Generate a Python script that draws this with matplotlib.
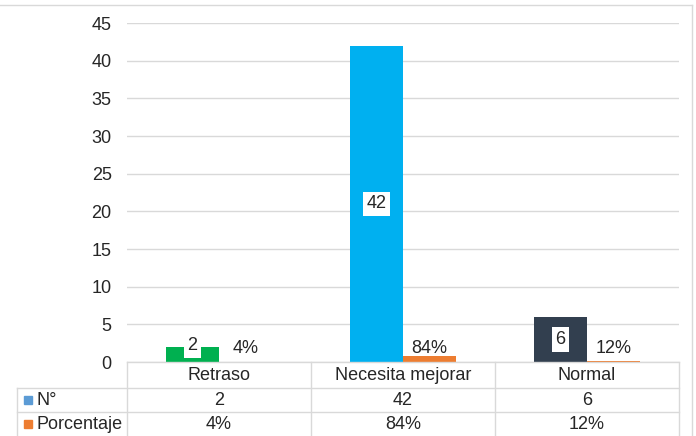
import numpy as np
from matplotlib import pyplot as plt
from matplotlib.patches import Rectangle
from matplotlib.lines import Line2D

plt.rcParams['font.family'] = ['Liberation Sans', 'DejaVu Sans']

# data
categories = ['Retraso', 'Necesita mejorar', 'Normal']
counts = [2, 42, 6]
percents = [0.04, 0.84, 0.12]
pct_labels = ['4%', '84%', '12%']
series_names = ['N°', 'Porcentaje']
yticks = [0, 5, 10, 15, 20, 25, 30, 35, 40, 45]

bar_colors = ['#00B050', '#00B0F0', '#323F4F']
pct_color = '#ED7D31'
key_colors = ['#5B9BD5', '#ED7D31']
grid_col = '#D9D9D9'
txt_col = '#262626'
fs = 13

W, H = 696, 436
fig = plt.figure(figsize=(W / 100, H / 100), dpi=100)

# plot area in pixels
px_left, px_right, px_top, px_bottom = 127, 679, 23, 362
ax = fig.add_axes([px_left / W, 1 - px_bottom / H,
                   (px_right - px_left) / W, (px_bottom - px_top) / H])

x = np.arange(len(categories))
bw = 0.288
ax.bar(x - bw / 2, counts, bw, color=bar_colors, zorder=3)
ax.bar(x + bw / 2, percents, bw, color=pct_color, zorder=3)

# count labels centred in bar, kept above the axis when the bar is short
for xi, c in zip(x, counts):
    ax.text(xi - bw / 2, max(c / 2, 2.2), str(c), ha='center', va='center',
            fontsize=fs, color=txt_col, zorder=5,
            bbox=dict(boxstyle='square,pad=0.2', fc='white', ec='none'))
# percent labels sit just above the bar, with a minimum height
for xi, p, lbl in zip(x, percents, pct_labels):
    ax.text(xi + bw / 2, max(p + 0.35, 1.2), lbl, ha='center', va='baseline',
            fontsize=fs, color=txt_col, zorder=5)

ax.set_xlim(-0.5, len(categories) - 0.5)
ax.set_ylim(0, 45)
ax.set_yticks(yticks)
ax.set_xticks([])
ax.tick_params(axis='y', length=0, pad=11, labelsize=fs, labelcolor=txt_col)
ax.grid(axis='y', color=grid_col, linewidth=1, zorder=0)
for s in ax.spines.values():
    s.set_visible(False)

# data table below the plot (figure pixel coordinates)
def fx(px):
    return px / W

def fy(py):
    return 1 - py / H

col_w = (px_right - px_left) / len(categories)
row_tops = [362, 388, 412, 436]
key_left = 17

def hline(y, x0, x1):
    fig.add_artist(Line2D([fx(x0), fx(x1)], [fy(y), fy(y)], color=grid_col, lw=1))

def vline(xp, y0, y1):
    fig.add_artist(Line2D([fx(xp), fx(xp)], [fy(y0), fy(y1)], color=grid_col, lw=1))

hline(362, px_left, px_right)
hline(388, key_left, px_right)
hline(412, key_left, px_right)
for i in range(len(categories) + 1):
    vline(px_left + i * col_w, 362, 436)
vline(key_left, 388, 436)

for i, cat in enumerate(categories):
    cx = px_left + (i + 0.5) * col_w
    fig.text(fx(cx), fy((row_tops[0] + row_tops[1]) / 2), cat,
             ha='center', va='center', fontsize=fs, color=txt_col)
    fig.text(fx(cx), fy((row_tops[1] + row_tops[2]) / 2), str(counts[i]),
             ha='center', va='center', fontsize=fs, color=txt_col)
    fig.text(fx(cx), fy((row_tops[2] + row_tops[3]) / 2), pct_labels[i],
             ha='center', va='center', fontsize=fs, color=txt_col)

for r, (name, kc) in enumerate(zip(series_names, key_colors)):
    cy = (row_tops[r + 1] + row_tops[r + 2]) / 2
    fig.add_artist(Rectangle((fx(24), fy(cy + 4)), 8 / W, 8 / H, color=kc,
                             transform=fig.transFigure))
    fig.text(fx(36), fy(cy), name, ha='left', va='center', fontsize=fs,
             color=txt_col)

# outer chart frame
hline(5, 0, 692)
vline(692, 5, 436)

plt.savefig('out.png', dpi=100)
